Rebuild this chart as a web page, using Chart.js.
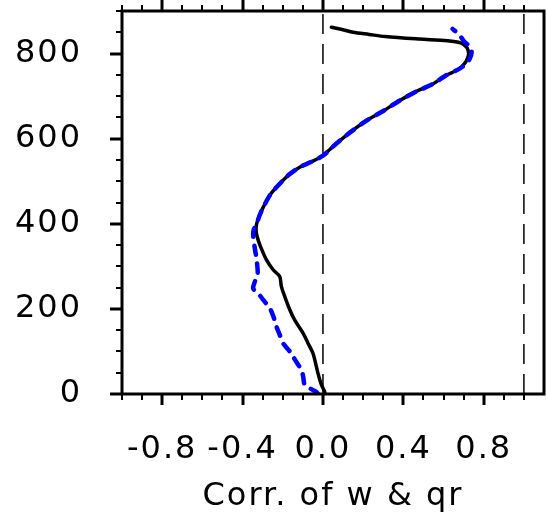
<!DOCTYPE html>
<html><head><meta charset="utf-8">
<script src="https://cdn.jsdelivr.net/npm/chart.js@4/dist/chart.umd.min.js"></script>
<style>html,body{margin:0;padding:0;background:#fff;overflow:hidden}canvas{display:block}</style>
</head><body>
<canvas id="c" width="546" height="518"></canvas>
<script>
// ---- data ----
const blackHeight = [0, 6, 22, 49, 75, 96, 120, 143, 174, 198, 229, 253, 276, 292, 315, 340, 361, 380, 400,
  420, 439, 470, 494, 515, 533, 545, 560, 575, 595, 620, 642, 665, 689, 710, 728, 748, 764, 780, 790, 799,
  808, 815, 825, 830, 834, 840, 845, 850, 856, 862];
const blackCorr = [0.01, 0.008, -0.008, -0.025, -0.038, -0.05, -0.075, -0.099, -0.141, -0.165, -0.19, -0.207, -0.215, -0.248, -0.281, -0.305, -0.322, -0.332, -0.33,
  -0.315, -0.297, -0.26, -0.215, -0.17, -0.116, -0.06, 0.0, 0.035, 0.083, 0.15, 0.215, 0.30, 0.38, 0.46, 0.545, 0.61, 0.678, 0.71, 0.72, 0.725,
  0.722, 0.715, 0.685, 0.62, 0.48, 0.31, 0.23, 0.15, 0.10, 0.042];
const blueHeight = [0, 5, 12, 22, 40, 57, 70, 88, 100, 119, 139, 158, 180, 201, 221, 235, 248, 265, 283, 315, 345, 369, 385, 400,
  420, 439, 470, 494, 515, 533, 545, 560, 575, 595, 620, 642, 665, 689, 710, 728, 748, 764, 775, 787, 803, 815, 827, 840, 850, 858];
const blueCorr = [-0.025, -0.033, -0.06, -0.091, -0.098, -0.107, -0.125, -0.149, -0.165, -0.198, -0.215, -0.231, -0.245, -0.264, -0.297, -0.32, -0.347, -0.338, -0.325, -0.33, -0.34, -0.347, -0.345, -0.33,
  -0.315, -0.297, -0.26, -0.215, -0.17, -0.116, -0.06, 0.0, 0.035, 0.083, 0.15, 0.215, 0.30, 0.38, 0.46, 0.545, 0.61, 0.678, 0.71, 0.73, 0.74, 0.735, 0.705, 0.685, 0.665, 0.645];
const refLineX = [0.0, 1.0];
const xRange = [-1.0, 1.1];
const yRange = [0, 900];
const xTickLabels = [-0.8, -0.4, 0.0, 0.4, 0.8];
const yTickLabels = [0, 200, 400, 600, 800];
const xMinorStep = 0.1;
const yMinorStep = 50;
const xTitle = 'Corr. of w & qr';

// ---- helpers ----
const near = (a, b) => Math.abs(a - b) < 1e-6;
const xTickValues = [];
for (let i = 0; xRange[0] + i * xMinorStep <= 1.0 + 1e-9; i++) xTickValues.push(+(xRange[0] + i * xMinorStep).toFixed(1));
const yTickValues = [];
for (let v = yRange[0]; v <= yRange[1]; v += yMinorStep) yTickValues.push(v);

const FONT = {family: 'DejaVu Sans', size: 32};

const frameTicks = {
  id: 'frameTicks',
  beforeDraw(chart) { chart.ctx.letterSpacing = '2px'; },
  afterDraw(chart) {
    const {ctx, chartArea: a, scales: {x, y}} = chart;
    ctx.save();
    ctx.strokeStyle = '#000';
    ctx.lineCap = 'butt';
    xTickValues.forEach(v => {
      const major = xTickLabels.some(l => near(l, v));
      const px = Math.round(x.getPixelForValue(v));
      const len = major ? 11 : 6;
      ctx.lineWidth = major ? 3 : 2;
      ctx.beginPath();
      ctx.moveTo(px, a.bottom); ctx.lineTo(px, a.bottom + len);
      ctx.moveTo(px, a.top); ctx.lineTo(px, a.top - len);
      ctx.stroke();
    });
    yTickValues.forEach(v => {
      const major = yTickLabels.some(l => near(l, v));
      const py = Math.round(y.getPixelForValue(v));
      const len = major ? 12 : 6;
      ctx.lineWidth = major ? 3 : 2;
      ctx.beginPath();
      ctx.moveTo(a.left, py); ctx.lineTo(a.left - len, py);
      ctx.stroke();
    });
    ctx.lineWidth = 3;
    ctx.strokeRect(a.left, a.top, a.right - a.left, a.bottom - a.top);
    ctx.restore();
  }
};

const toPts = (xs, ys) => xs.map((v, i) => ({x: v, y: ys[i]}));

const datasets = [
  {data: toPts(blueCorr, blueHeight), borderColor: '#0000ff', borderWidth: 4.5, borderDash: [9, 9],
   borderCapStyle: 'round', borderJoinStyle: 'round', tension: 0.3},
  {data: toPts(blackCorr, blackHeight), borderColor: '#000', borderWidth: 3.5, tension: 0.3,
   borderCapStyle: 'round', borderJoinStyle: 'round'}
];
refLineX.forEach(rx => datasets.push({
  data: [{x: rx, y: yRange[0]}, {x: rx, y: yRange[1]}], borderColor: '#000', borderWidth: 1.5,
  borderDash: [20, 10], tension: 0
}));
datasets.forEach(d => { d.showLine = true; d.pointRadius = 0; d.fill = false; });

new Chart(document.getElementById('c'), {
  type: 'scatter',
  data: {datasets},
  options: {
    responsive: false,
    devicePixelRatio: 1,
    animation: false,
    layout: {autoPadding: false, padding: {top: 11, right: 2, left: 0, bottom: 0}},
    plugins: {legend: {display: false}, tooltip: {enabled: false}},
    scales: {
      x: {
        type: 'linear', min: xRange[0], max: xRange[1],
        grid: {display: false, drawTicks: false}, border: {display: false},
        afterBuildTicks: s => { s.ticks = xTickValues.map(v => ({value: v})); },
        afterFit: s => { s.height = 124; s.paddingLeft = 0; s.paddingRight = 0; },
        ticks: {
          autoSkip: false, maxRotation: 0, minRotation: 0, padding: 36, color: '#000', font: FONT,
          callback: v => { const l = xTickLabels.find(t => near(t, v)); return l === undefined ? '' : l.toFixed(1); }
        },
        title: {display: true, text: xTitle, color: '#000', font: FONT, padding: {top: 0, bottom: 2}}
      },
      y: {
        type: 'linear', min: yRange[0], max: yRange[1],
        grid: {display: false, drawTicks: false}, border: {display: false},
        afterBuildTicks: s => { s.ticks = yTickValues.map(v => ({value: v})); },
        afterFit: s => { s.width = 122; s.paddingTop = 0; s.paddingBottom = 0; },
        ticks: {
          autoSkip: false, padding: 40, color: '#000', font: FONT,
          callback: v => { const l = yTickLabels.find(t => near(t, v)); return l === undefined ? '' : String(l); }
        }
      }
    }
  },
  plugins: [frameTicks]
});
</script>
</body></html>
